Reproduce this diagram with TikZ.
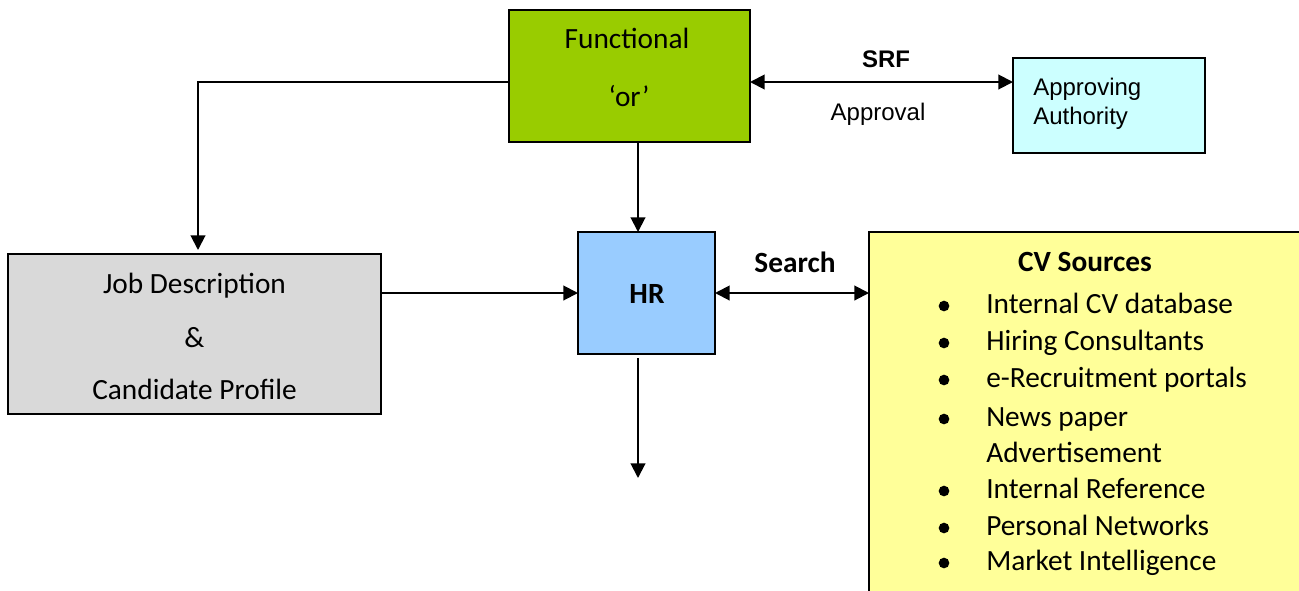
\documentclass[tikz,border=0pt]{standalone}
\usepackage{fontspec}
\setmainfont{Carlito}
\newfontfamily\arialfont{Liberation Sans}
\usepackage{tikz}
\usetikzlibrary{positioning}
\usetikzlibrary{arrows.meta}
\usetikzlibrary{calc}
\definecolor{fngreen}{RGB}{153,204,0}
\definecolor{authcyan}{RGB}{204,255,255}
\definecolor{hrblue}{RGB}{153,204,255}
\definecolor{cvyellow}{RGB}{255,255,153}
\definecolor{jobgray}{RGB}{217,217,217}
\tikzset{
  box/.style={draw,rectangle,line width=1.5pt,inner sep=0pt,outer sep=0pt},
  link/.style={line width=1.5pt,-{Triangle[length=11pt,width=11pt]}},
  twoway/.style={line width=1.5pt,{Triangle[length=11pt,width=11pt]}-{Triangle[length=11pt,width=11pt]}},
  txt/.style={anchor=base,inner sep=0pt,font=\fontsize{22}{26}\selectfont},
  atxt/.style={anchor=base,inner sep=0pt,font=\arialfont\fontsize{18}{22}\selectfont},
}

\begin{document}
\begin{tikzpicture}[x=0.75pt,y=-0.75pt]
\useasboundingbox (0,0) rectangle (1299,590);
%blocks
\node (fn) at (629.5,76) [box,fill=fngreen,minimum width=180.75pt,minimum height=99pt] {};
\node (auth) at (1109,105.5) [box,line width=1.2pt,fill=authcyan,minimum width=144pt,minimum height=71.25pt] {};
\node (job) at (194.5,334) [box,fill=jobgray,minimum width=279.75pt,minimum height=120pt] {};
\node (hr) at (646.5,293) [box,fill=hrblue,minimum width=102.75pt,minimum height=91.5pt] {};
\node (cv) at (1144.5,466) [box,fill=cvyellow,minimum width=413.25pt,minimum height=351pt] {};

%block texts
\node (fn1) at (627,48) [txt] {Functional};
\node (fn2) at (629,106) [txt] {‘or’};
\node (auth1) at (1033,95) [atxt,anchor=base west] {Approving};
\node (auth2) at (1033,124) [atxt,anchor=base west] {Authority};
\node (job1) at (194.5,293) [txt] {Job Description};
\node (job2) at (194.5,347) [txt] {\&};
\node (job3) at (194.5,399) [txt] {Candidate Profile};
\node (hr1) at (647,303) [txt,font=\fontsize{22}{26}\selectfont\bfseries] {HR};
\node (cvt) at (1085,271) [txt,font=\fontsize{22}{26}\selectfont\bfseries] {CV Sources};

%list of sources
\foreach \y/\t [count=\i] in {313/Internal CV database,350/Hiring Consultants,387/e-Recruitment portals,426/News paper,498/Internal Reference,535/Personal Networks,570/Market Intelligence}{
  \node (dot\i) at (944,\y-7) [circle,fill,inner sep=0pt,minimum size=8pt] {};
  \node (src\i) at (986,\y) [txt,anchor=base west] {\t};
}
\node (src4b) at (986,462) [txt,anchor=base west] {Advertisement};

%arrow labels
\node (srf) at (886,67) [atxt,font=\arialfont\fontsize{18}{22}\selectfont\bfseries] {SRF};
\node (appr) at (878,120) [atxt] {Approval};
\node (srch) at (795,272) [txt,font=\fontsize{22}{26}\selectfont\bfseries] {Search};

%connectors
\coordinate (srfrow) at (0,82);
\coordinate (jn) at (198,82);
\coordinate (col) at (638,0);
\coordinate (out) at (638,478);
\draw [link] (fn.west |- srfrow) -- (jn) -- ($(job.north -| jn)+(0,-4)$);
\draw [twoway] (fn.east |- srfrow) -- (auth.west |- srfrow);
\draw [link] (fn.south -| col) -- (hr.north -| col);
\draw [link] (job.east |- hr.west) -- (hr.west);
\draw [twoway] (hr.east) -- (cv.west |- hr.east);
\draw [link] ($(hr.south -| col)+(0,4)$) -- (out);
\end{tikzpicture}
\end{document}
